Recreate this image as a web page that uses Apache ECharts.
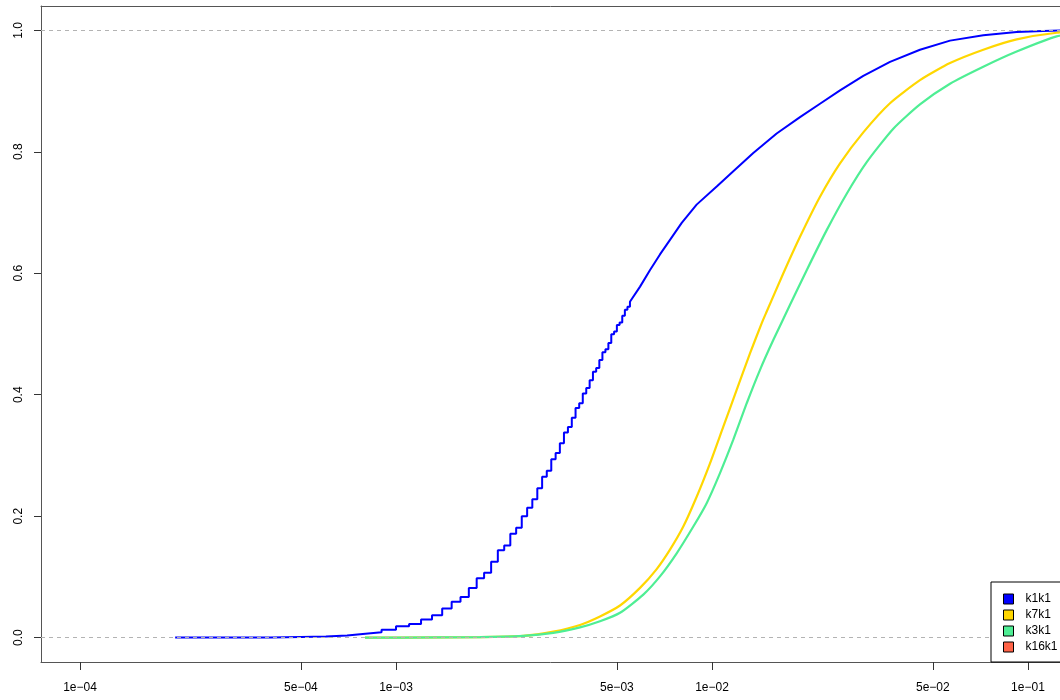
<!DOCTYPE html>
<html><head><meta charset="utf-8">
<script src="https://cdn.jsdelivr.net/npm/echarts@6/dist/echarts.min.js"></script>
<style>html,body{margin:0;padding:0;background:#fff}#c{width:1060px;height:700px}</style>
</head><body><div id="c"></div>
<script>
// ---- data ----
const seriesNames = ['k1k1', 'k7k1', 'k3k1', 'k16k1'];

// k1k1: discrete ECDF steps (x = jump position, y = value after jump)
const k1k1StepX = [0.0002, 0.0004, 0.0005, 0.0006, 0.0007, 0.0008, 0.0009, 0.0010, 0.0011, 0.0012,
  0.0013, 0.0014, 0.0015, 0.0016, 0.0017, 0.0018, 0.0019, 0.0020, 0.0021, 0.0022,
  0.0023, 0.0024, 0.0025, 0.0026, 0.0027, 0.0028, 0.0029, 0.0030, 0.0031, 0.0032,
  0.0033, 0.0034, 0.0035, 0.0036, 0.0037, 0.0038, 0.0039, 0.0040, 0.0041, 0.0042,
  0.0043, 0.0044, 0.0045, 0.0046, 0.0047, 0.0048, 0.0049, 0.0050, 0.0051, 0.0052,
  0.0053, 0.0054, 0.0055];
const k1k1StepY = [0.0003, 0.0013, 0.0018, 0.0035, 0.0066, 0.0088, 0.013, 0.019, 0.0225, 0.030,
  0.037, 0.048, 0.059, 0.067, 0.082, 0.098, 0.107, 0.125, 0.144, 0.152,
  0.171, 0.181, 0.200, 0.214, 0.228, 0.246, 0.265, 0.275, 0.294, 0.304,
  0.320, 0.338, 0.347, 0.362, 0.378, 0.386, 0.402, 0.411, 0.424, 0.438,
  0.444, 0.457, 0.470, 0.475, 0.485, 0.4995, 0.504, 0.515, 0.519, 0.530,
  0.540, 0.545, 0.553];
// k1k1: upper part (fine steps)
const k1k1X = [0.00592, 0.00636, 0.006845, 0.007364, 0.00802, 0.00894, 0.01035, 0.01168, 0.01351, 0.01602,
  0.01899, 0.02197, 0.02542, 0.03012, 0.03659, 0.04552, 0.05666, 0.07222, 0.09209, 0.1116, 0.1358];
const k1k1Y = [0.578, 0.605, 0.631, 0.655, 0.683, 0.713, 0.743, 0.768, 0.798, 0.830,
  0.857, 0.879, 0.901, 0.925, 0.948, 0.968, 0.983, 0.992, 0.997, 0.9988, 1.0];

const k7k1X = [0.000798, 0.00103, 0.001845, 0.002528, 0.003146, 0.003822, 0.004421, 0.005116, 0.005918, 0.006683,
  0.007364, 0.008113, 0.008944, 0.009856, 0.01086, 0.01197, 0.01319, 0.01437, 0.0149, 0.01682, 0.01899,
  0.02197, 0.02542, 0.03012, 0.03659, 0.04552, 0.05666, 0.07222, 0.09209, 0.1233, 0.169];
const k7k1Y = [0, 0.0002, 0.001, 0.003, 0.010, 0.021, 0.035, 0.053, 0.082, 0.113,
  0.145, 0.183, 0.232, 0.287, 0.3475, 0.408, 0.468, 0.518, 0.537, 0.600, 0.660,
  0.726, 0.781, 0.832, 0.880, 0.918, 0.946, 0.968, 0.985, 0.996, 1.0];

const k3k1X = [0.000798, 0.00103, 0.001845, 0.002528, 0.003146, 0.003822, 0.004421, 0.005116, 0.006062, 0.006845,
  0.007732, 0.008728, 0.00962, 0.0106, 0.01168, 0.01288, 0.01419, 0.01563, 0.01766, 0.01994,
  0.02307, 0.02669, 0.03088, 0.03748, 0.04552, 0.05666, 0.07222, 0.09209, 0.1233, 0.169];
const k3k1Y = [0, 0.0002, 0.0008, 0.003, 0.008, 0.017, 0.027, 0.041, 0.071, 0.101,
  0.139, 0.183, 0.2215, 0.271, 0.326, 0.386, 0.441, 0.490, 0.548, 0.605,
  0.671, 0.731, 0.783, 0.838, 0.878, 0.912, 0.940, 0.965, 0.990, 1.0];

const k16k1X = [];
const k16k1Y = [];

const xTickValues = [1e-4, 5e-4, 1e-3, 5e-3, 1e-2, 5e-2, 1e-1];
const xTickLabels = ['1e\u221204', '5e\u221204', '1e\u221203', '5e\u221203', '1e\u221202', '5e\u221202', '1e\u221201'];
const yTickValues = [0, 0.2, 0.4, 0.6, 0.8, 1.0];
const yTickLabels = ['0.0', '0.2', '0.4', '0.6', '0.8', '1.0'];

// ---- build ----
function zip(xs, ys) { return xs.map((x, i) => [x, ys[i]]); }
function stepCorners(xs, ys) {
  const out = [[xs[0], ys[0]]];
  for (let i = 1; i < xs.length; i++) {
    out.push([xs[i], ys[i - 1]]);
    out.push([xs[i], ys[i]]);
  }
  return out;
}
const k1k1Data = stepCorners(k1k1StepX, k1k1StepY).concat(zip(k1k1X, k1k1Y));

const FONT = '"Liberation Sans", Arial, Helvetica, sans-serif';
const colors = ['#0000FF', '#FFD700', '#4EEE94', '#FF6347'];
const X_MIN = 7.524e-5, X_MAX = 0.12629;

function xLabel(v) {
  let best = 0, bd = Infinity;
  xTickValues.forEach((t, i) => { const d = Math.abs(Math.log10(t) - Math.log10(v)); if (d < bd) { bd = d; best = i; } });
  return xTickLabels[best];
}
function yLabel(v) {
  let best = 0, bd = Infinity;
  yTickValues.forEach((t, i) => { const d = Math.abs(t - v); if (d < bd) { bd = d; best = i; } });
  return yTickLabels[best];
}

const chart = echarts.init(document.getElementById('c'), null, { renderer: 'canvas' });
const lineBase = { type: 'line', showSymbol: false, symbol: 'none', animation: false, silent: true, clip: true, xAxisIndex: 0, yAxisIndex: 0 };
const boxLine = { show: true, onZero: false, lineStyle: { color: '#555', width: 1 } };
chart.setOption({
  animation: false,
  backgroundColor: '#fff',
  color: colors,
  grid: { left: 41, top: 6, right: 0, bottom: 38, show: false },
  xAxis: [{
    type: 'log', logBase: 10, min: X_MIN, max: X_MAX, position: 'bottom',
    axisLine: boxLine,
    axisTick: { show: true, length: 8, lineStyle: { color: '#333', width: 1 }, customValues: xTickValues },
    axisLabel: { customValues: xTickValues, formatter: xLabel, margin: 20, fontSize: 12, color: '#000', fontFamily: FONT },
    splitLine: { show: false }, minorTick: { show: false }
  }, {
    type: 'log', logBase: 10, min: X_MIN, max: X_MAX, position: 'top',
    axisLine: boxLine, axisTick: { show: false }, axisLabel: { show: false }, splitLine: { show: false }
  }],
  yAxis: {
    type: 'value', min: -0.04, max: 1.04,
    axisLine: boxLine,
    axisTick: { show: true, length: 7, lineStyle: { color: '#333', width: 1 }, customValues: yTickValues },
    axisLabel: { customValues: yTickValues, formatter: yLabel, rotate: 90, margin: 16, fontSize: 12, color: '#000', fontFamily: FONT },
    splitLine: { show: false }
  },
  legend: {
    orient: 'vertical', left: 991, top: 582,
    padding: [11, 80, 9, 12],
    itemWidth: 10, itemHeight: 10, itemGap: 4,
    icon: 'rect',
    borderColor: '#000', borderWidth: 1, backgroundColor: '#fff',
    z: 50,
    textStyle: { fontSize: 12, color: '#000', fontFamily: FONT, padding: [0, 0, 0, 7] },
    itemStyle: { borderColor: '#000', borderWidth: 1 },
    data: seriesNames
  },
  series: [
    Object.assign({}, lineBase, { name: seriesNames[0], data: k1k1Data, lineStyle: { width: 2, color: colors[0] }, itemStyle: { color: colors[0] } }),
    Object.assign({}, lineBase, { name: seriesNames[1], data: zip(k7k1X, k7k1Y), smooth: 0.2, lineStyle: { width: 2.2, color: colors[1] }, itemStyle: { color: colors[1] } }),
    Object.assign({}, lineBase, { name: seriesNames[2], data: zip(k3k1X, k3k1Y), smooth: 0.2, lineStyle: { width: 2.2, color: colors[2] }, itemStyle: { color: colors[2] },
      markLine: { silent: true, symbol: ['none', 'none'], label: { show: false }, animation: false,
        lineStyle: { type: [4, 4], color: '#B3B3B3', width: 1 },
        data: [{ yAxis: 0 }, { yAxis: 1 }] } }),
    Object.assign({}, lineBase, { name: seriesNames[3], data: zip(k16k1X, k16k1Y), lineStyle: { width: 2, color: colors[3] }, itemStyle: { color: colors[3] } })
  ]
});
</script>
</body></html>
